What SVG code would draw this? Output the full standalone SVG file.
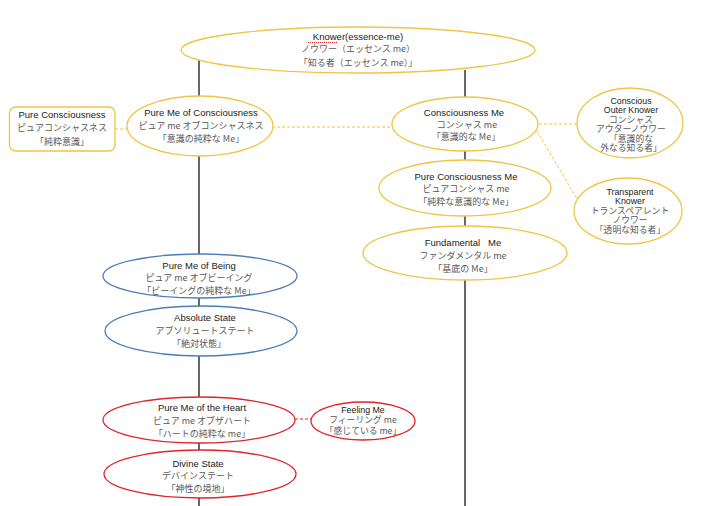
<svg xmlns="http://www.w3.org/2000/svg" width="717" height="506" viewBox="0 0 717 506">
<style>
.y{fill:#fff;stroke:#F2C443;stroke-width:1.3}
.b{fill:#fff;stroke:#4A7EBB;stroke-width:1.3}
.r{fill:#fff;stroke:#E02428;stroke-width:1.3}
.ln{stroke:#000;stroke-width:1.2;fill:none}
.dy{stroke:#F2C443;stroke-width:1;stroke-dasharray:3,2;fill:none}
.dr{stroke:#E02428;stroke-width:1;stroke-dasharray:3,2;fill:none}
text{font-family:"Liberation Sans","Noto Sans CJK JP",Arial,sans-serif;text-anchor:middle}
.e{font-size:9.5px;fill:#1a1a1a}
.j{font-size:9px;fill:#595959;font-family:"Noto Sans CJK JP","Liberation Sans",sans-serif}
.s{font-size:8.8px}
</style>
<rect width="717" height="506" fill="#fff"/>
<g id="connectors">
<line class="ln" x1="199" y1="60" x2="199" y2="506"/>
<line class="ln" x1="465" y1="70" x2="465" y2="506"/>
<line class="dy" x1="115" y1="129" x2="127" y2="129"/>
<line class="dy" x1="272" y1="127" x2="392" y2="127"/>
<line class="dy" x1="539" y1="124" x2="577" y2="124"/>
<line class="dy" x1="537" y1="131" x2="577" y2="199"/>
<line class="dr" x1="295" y1="419" x2="311" y2="419"/>
</g>
<g id="knower">
<ellipse class="y" cx="358" cy="50" rx="177" ry="23"/>
<text class="e" x="358" y="39.5">Knower(essence-me)</text>
<line x1="308" y1="42.5" x2="337" y2="42.5" stroke="#E02428" stroke-width="1" stroke-dasharray="1,1"/>
<text class="j" x="358" y="52">ノウワー（エッセンス me）</text>
<text class="j" x="358" y="65.5">「知る者（エッセンス me）」</text>
</g>
<g id="pure-consciousness">
<rect class="y" x="9.5" y="107" width="105.5" height="44" rx="6"/>
<text class="e" x="62" y="117.5">Pure Consciousness</text>
<text class="j" x="62" y="131">ピュアコンシャスネス</text>
<text class="j" x="62" y="144.5">「純粋意識」</text>
</g>
<g id="pure-me-of-consciousness">
<ellipse class="y" cx="200" cy="126" rx="73" ry="30"/>
<text class="e" x="201" y="115.5">Pure Me of Consciousness</text>
<text class="j" x="201" y="129">ピュア me オブコンシャスネス</text>
<text class="j" x="201" y="141.5">「意識の純粋な Me」</text>
</g>
<g id="consciousness-me">
<ellipse class="y" cx="465" cy="124" rx="73" ry="27"/>
<text class="e" x="464" y="116">Consciousness Me</text>
<text class="j" x="467" y="127.5">コンシャス me</text>
<text class="j" x="466" y="139.5">「意識的な Me」</text>
</g>
<g id="conscious-outer-knower">
<ellipse class="y" cx="630" cy="123" rx="53" ry="35"/>
<text class="e s" x="631" y="103.5">Conscious</text>
<text class="e s" x="631" y="113">Outer Knower</text>
<text class="j s" x="631" y="122.5">コンシャス</text>
<text class="j s" x="631" y="132">アウターノウワー</text>
<text class="j s" x="631" y="141.5">「意識的な</text>
<text class="j s" x="631" y="151">外なる知る者」</text>
</g>
<g id="pure-consciousness-me">
<ellipse class="y" cx="465" cy="188" rx="86" ry="28"/>
<text class="e" x="466" y="179.5">Pure Consciousness Me</text>
<text class="j" x="466" y="191.5">ピュアコンシャス me</text>
<text class="j" x="466" y="205">「純粋な意識的な Me」</text>
</g>
<g id="transparent-knower">
<ellipse class="y" cx="628" cy="211" rx="54" ry="33"/>
<text class="e s" x="630" y="194.5">Transparent</text>
<text class="e s" x="630" y="204">Knower</text>
<text class="j s" x="630" y="213.5">トランスペアレント</text>
<text class="j s" x="630" y="223">ノウワー</text>
<text class="j s" x="630" y="232.5">「透明な知る者」</text>
</g>
<g id="fundamental-me">
<ellipse class="y" cx="465" cy="253" rx="102" ry="27"/>
<text class="e" x="463" y="245.5" xml:space="preserve">Fundamental   Me</text>
<text class="j" x="463" y="258.5">ファンダメンタル me</text>
<text class="j" x="463" y="271.5">「基底の Me」</text>
</g>
<g id="pure-me-of-being">
<ellipse class="b" cx="200" cy="276" rx="97" ry="22"/>
<text class="e" x="199" y="268.5">Pure Me of Being</text>
<text class="j" x="199" y="280.5">ピュア me オブビーイング</text>
<text class="j" x="199" y="294">「ビーイングの純粋な Me」</text>
</g>
<g id="absolute-state">
<ellipse class="b" cx="201" cy="331" rx="96" ry="25"/>
<text class="e" x="205" y="320.5">Absolute State</text>
<text class="j" x="205" y="333.5">アブソリュートステート</text>
<text class="j" x="199" y="347">「絶対状態」</text>
</g>
<g id="pure-me-of-the-heart">
<ellipse class="r" cx="199" cy="420" rx="96" ry="23"/>
<text class="e" x="202" y="410.5">Pure Me of the Heart</text>
<text class="j" x="202" y="423.5">ピュア me オブザハート</text>
<text class="j" x="202" y="436.5">「ハートの純粋な me」</text>
</g>
<g id="feeling-me">
<ellipse class="r" cx="363" cy="421" rx="52" ry="19"/>
<text class="e s" x="363" y="412.5">Feeling Me</text>
<text class="j s" x="363" y="423">フィーリング me</text>
<text class="j s" x="363" y="433.5">「感じている me」</text>
</g>
<g id="divine-state">
<ellipse class="r" cx="200" cy="474" rx="96" ry="24"/>
<text class="e" x="198" y="466.5">Divine State</text>
<text class="j" x="198" y="478.5">デバインステート</text>
<text class="j" x="198" y="491.5">「神性の境地」</text>
</g>
</svg>
